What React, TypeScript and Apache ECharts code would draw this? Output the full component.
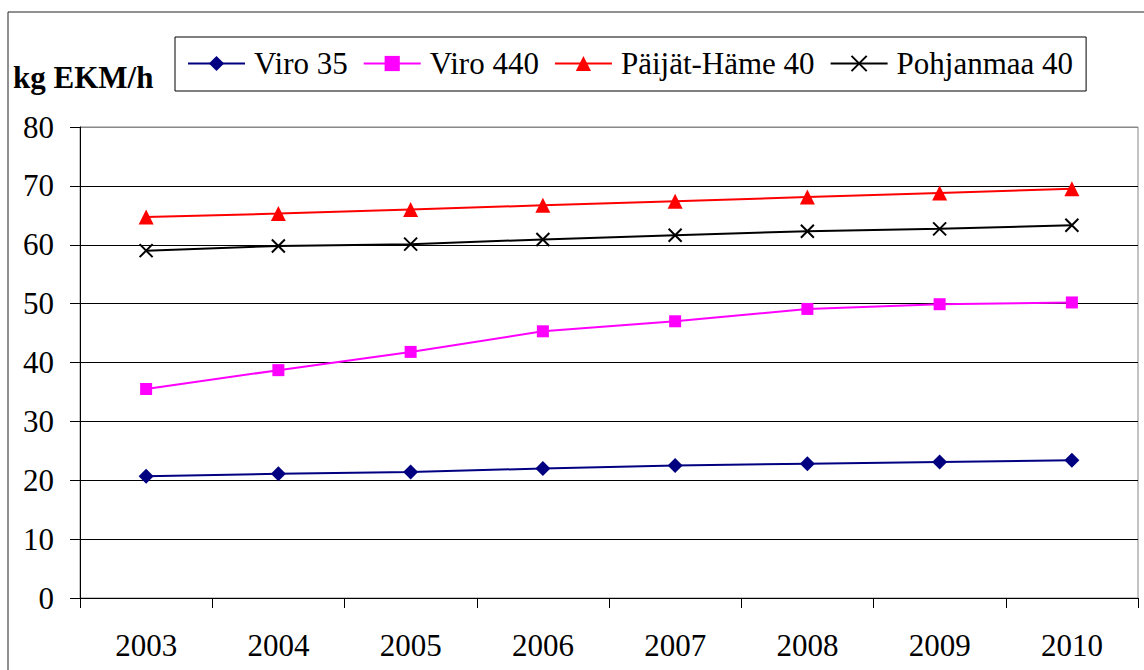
import React, { useEffect, useRef } from "react";
import * as echarts from "echarts";

const years = ["2003", "2004", "2005", "2006", "2007", "2008", "2009", "2010"];
const viro35 = [20.7, 21.1, 21.4, 22.0, 22.5, 22.8, 23.1, 23.4];
const viro440 = [35.5, 38.7, 41.8, 45.3, 47.0, 49.1, 49.9, 50.2];
const paijatHame40 = [64.7, 65.3, 66.0, 66.7, 67.4, 68.1, 68.8, 69.5];
const pohjanmaa40 = [59.0, 59.8, 60.1, 60.9, 61.6, 62.3, 62.7, 63.3];
const seriesNames = ["Viro 35", "Viro 440", "Päijät-Häme 40", "Pohjanmaa 40"];
const yAxisTitle = "kg EKM/h";

const FONT = "Liberation Serif";

export default function App() {
  const ref = useRef<HTMLDivElement>(null);
  useEffect(() => {
    if (!ref.current) return;
    const chart = echarts.init(ref.current, null, { renderer: "svg" });
    const splitColors = ["#000", "#000", "#000", "#000", "#000", "#000", "#000", "#000", "#888"];
    chart.setOption({
      animation: false,
      backgroundColor: "#fff",
      textStyle: { fontFamily: FONT },
      graphic: [
        {
          type: "rect",
          shape: { x: 8, y: 12, width: 1200, height: 720 },
          style: { fill: "none", stroke: "#222", lineWidth: 1 },
          silent: true,
          z: 100,
        },
        {
          type: "text",
          left: 13,
          top: 62,
          style: {
            text: yAxisTitle,
            fontFamily: FONT,
            fontSize: 31,
            fontWeight: "bold",
            fill: "#000",
          },
        },
      ],
      legend: {
        left: 175,
        top: 37,
        padding: [11, 13, 12, 12],
        borderColor: "#000",
        borderWidth: 1,
        itemWidth: 57,
        itemHeight: 19,
        itemGap: 15,
        textStyle: { fontSize: 31, fontFamily: FONT, color: "#000", padding: [0, 0, 0, 4] },
        data: seriesNames,
      },
      grid: {
        left: 80,
        top: 127,
        right: 6,
        bottom: 72,
        show: true,
        borderColor: "#888",
        borderWidth: 1,
      },
      xAxis: {
        type: "category",
        data: years,
        boundaryGap: true,
        axisLine: { lineStyle: { color: "#000", width: 1 } },
        axisTick: { show: true, length: 10, alignWithLabel: false, lineStyle: { color: "#000" } },
        axisLabel: { fontSize: 31, fontFamily: FONT, color: "#000", margin: 32 },
        splitLine: { show: false },
      },
      yAxis: {
        type: "value",
        min: 0,
        max: 80,
        interval: 10,
        axisLine: { show: true, lineStyle: { color: "#000", width: 1 } },
        axisTick: { show: true, length: 10, inside: false, lineStyle: { color: "#000" } },
        axisLabel: { fontSize: 31, fontFamily: FONT, color: "#000", margin: 26 },
        splitLine: { show: true, lineStyle: { color: splitColors, width: 1 } },
      },
      series: [
        {
          name: seriesNames[0],
          type: "line",
          data: viro35,
          symbol: "diamond",
          symbolSize: 15,
          color: "#000080",
          lineStyle: { color: "#000080", width: 2 },
          itemStyle: { color: "#000080" },
        },
        {
          name: seriesNames[1],
          type: "line",
          data: viro440,
          symbol: "rect",
          symbolSize: 12,
          color: "#FF00FF",
          lineStyle: { color: "#FF00FF", width: 2 },
          itemStyle: { color: "#FF00FF" },
        },
        {
          name: seriesNames[2],
          type: "line",
          data: paijatHame40,
          symbol: "triangle",
          symbolSize: 15,
          color: "#FF0000",
          lineStyle: { color: "#FF0000", width: 2 },
          itemStyle: { color: "#FF0000" },
        },
        {
          name: seriesNames[3],
          type: "line",
          data: pohjanmaa40,
          symbol: "path://M0,0L10,10M10,0L0,10",
          symbolSize: 13,
          color: "#000",
          lineStyle: { color: "#000", width: 2 },
          itemStyle: { color: "#000", borderColor: "#000", borderWidth: 2 },
        },
      ],
    });
    return () => chart.dispose();
  }, []);
  return (
    <div
      ref={ref}
      style={{ position: "fixed", left: 0, top: 0, width: 1144, height: 670 }}
    />
  );
}
